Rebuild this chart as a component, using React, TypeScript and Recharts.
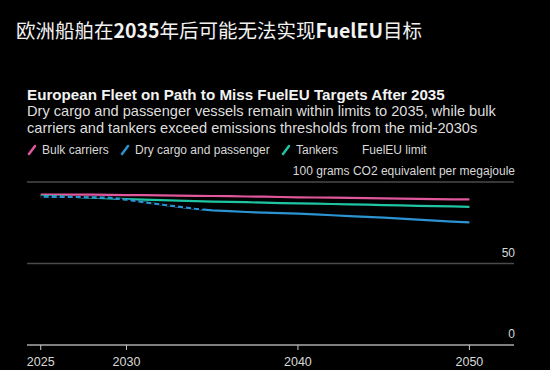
import { LineChart, Line, XAxis, YAxis, CartesianGrid } from "recharts"

const years = [2025, 2026, 2027, 2028, 2029, 2030, 2031, 2032, 2033, 2034, 2035, 2036, 2037, 2038, 2039, 2040, 2041, 2042, 2043, 2044, 2045, 2046, 2047, 2048, 2049, 2050]
const bulk = [92.3, 92.3, 92.2, 92.2, 92.1, 92.0, 91.9, 91.8, 91.7, 91.5, 91.4, 91.3, 91.1, 91.0, 90.8, 90.6, 90.5, 90.4, 90.2, 90.1, 89.9, 89.8, 89.7, 89.5, 89.4, 89.3]
const dryCargo = [91.0, 90.9, 90.8, 90.6, 90.4, 89.1, 87.6, 86.2, 84.9, 83.6, 82.6, 82.1, 81.6, 81.2, 80.9, 80.6, 80.1, 79.6, 79.1, 78.6, 78.1, 77.5, 76.9, 76.3, 75.7, 75.2]
const tankers = [91.5, 91.2, 90.8, 90.4, 89.9, 89.5, 89.2, 88.9, 88.6, 88.3, 88.0, 87.8, 87.6, 87.3, 87.1, 86.9, 86.7, 86.5, 86.3, 86.1, 85.8, 85.6, 85.4, 85.2, 85.0, 84.8]

// FuelEU limit (drawn in black, only visible where it crosses the other lines)
const limitYears = [2025, 2029.6, 2029.7, 2034.4, 2034.5, 2039.9, 2040, 2050]
const limitValues = [91.0, 90.5, 89.0, 83.4, 77.9, 77.9, 62.9, 62.9]

const xTicks = [2025, 2030, 2040, 2050]
const yTicks = [0, 50, 100]
const yLabels = ["0", "50", "100 grams CO2 equivalent per megajoule"]

const seriesData = years.map((year, i) => ({
  year,
  bulk: bulk[i],
  dryCargo: dryCargo[i],
  tankers: tankers[i],
}))
const limitData = limitYears.map((year, i) => ({ year, limit: limitValues[i] }))

const font = "'Liberation Sans', Arial, sans-serif"

function YLabel(props: any) {
  const { y, payload } = props
  const idx = yTicks.indexOf(payload.value)
  return (
    <text x={515} y={y - 7} textAnchor="end" fill="#d8d8d8" fontSize={12} fontFamily={font}>
      {yLabels[idx]}
    </text>
  )
}

function Slash({ color }: { color: string }) {
  return (
    <svg width={10} height={12} style={{ marginRight: 5 }}>
      <line x1={2} y1={10} x2={8} y2={2} stroke={color} strokeWidth={2.5} strokeLinecap="round" />
    </svg>
  )
}

const legend = [
  { name: "Bulk carriers", color: "#e0579b", x: 27 },
  { name: "Dry cargo and passenger", color: "#2b93d0", x: 120 },
  { name: "Tankers", color: "#1fc4a2", x: 281 },
]

export default function App() {
  return (
    <div style={{ position: "absolute", left: 0, top: 0, width: 550, height: 370, background: "#000", overflow: "hidden", fontFamily: font }}>
      <div style={{ position: "absolute", left: 16, top: 15, fontSize: 19.5, color: "#f2f2f2", fontFamily: "'Noto Sans CJK SC', sans-serif", whiteSpace: "nowrap" }}>
        欧洲船舶在<b>2035</b>年后可能无法实现<b>FuelEU</b>目标
      </div>
      <div style={{ position: "absolute", left: 27, top: 86, fontSize: 15.2, fontWeight: "bold", color: "#f2f2f2", whiteSpace: "nowrap" }}>
        European Fleet on Path to Miss FuelEU Targets After 2035
      </div>
      <div style={{ position: "absolute", left: 27, top: 103, fontSize: 14.6, lineHeight: "17px", color: "#dedede", whiteSpace: "nowrap" }}>
        Dry cargo and passenger vessels remain within limits to 2035, while bulk
        <br />
        carriers and tankers exceed emissions thresholds from the mid-2030s
      </div>
      {legend.map((l) => (
        <div key={l.name} style={{ position: "absolute", left: l.x, top: 143, fontSize: 12, color: "#d8d8d8", display: "flex", alignItems: "center", whiteSpace: "nowrap" }}>
          <Slash color={l.color} />
          {l.name}
        </div>
      ))}
      <div style={{ position: "absolute", left: 362, top: 143, fontSize: 12, color: "#d8d8d8", lineHeight: "14px", whiteSpace: "nowrap" }}>
        FuelEU limit
      </div>
      <div style={{ position: "absolute", left: 0, top: 0 }}>
        <LineChart width={550} height={370} margin={{ top: 182, right: 35, bottom: 0, left: 27 }}>
          <CartesianGrid vertical={false} stroke="#4a4a4a" strokeWidth={1.5} />
          <XAxis
            dataKey="year"
            type="number"
            domain={[2024.2, 2052.6]}
            ticks={xTicks}
            allowDuplicatedCategory={false}
            height={25}
            stroke="#c8c8c8"
            tickSize={5}
            tickMargin={7}
            tick={{ fill: "#d8d8d8", fontSize: 12.5, fontFamily: font }}
          />
          <YAxis
            orientation="right"
            width={1}
            domain={[0, 100]}
            ticks={yTicks}
            axisLine={false}
            tickLine={false}
            tick={(p: any) => <YLabel {...p} />}
          />
          <Line data={seriesData} dataKey="bulk" stroke="#e0579b" strokeWidth={2.2} dot={false} isAnimationActive={false} />
          <Line data={seriesData} dataKey="tankers" stroke="#1fc4a2" strokeWidth={2.2} dot={false} isAnimationActive={false} />
          <Line data={seriesData} dataKey="dryCargo" stroke="#2b93d0" strokeWidth={2.2} dot={false} isAnimationActive={false} />
          <Line data={limitData} dataKey="limit" stroke="#000" strokeWidth={2} strokeDasharray="3 5" dot={false} isAnimationActive={false} />
        </LineChart>
      </div>
    </div>
  )
}
